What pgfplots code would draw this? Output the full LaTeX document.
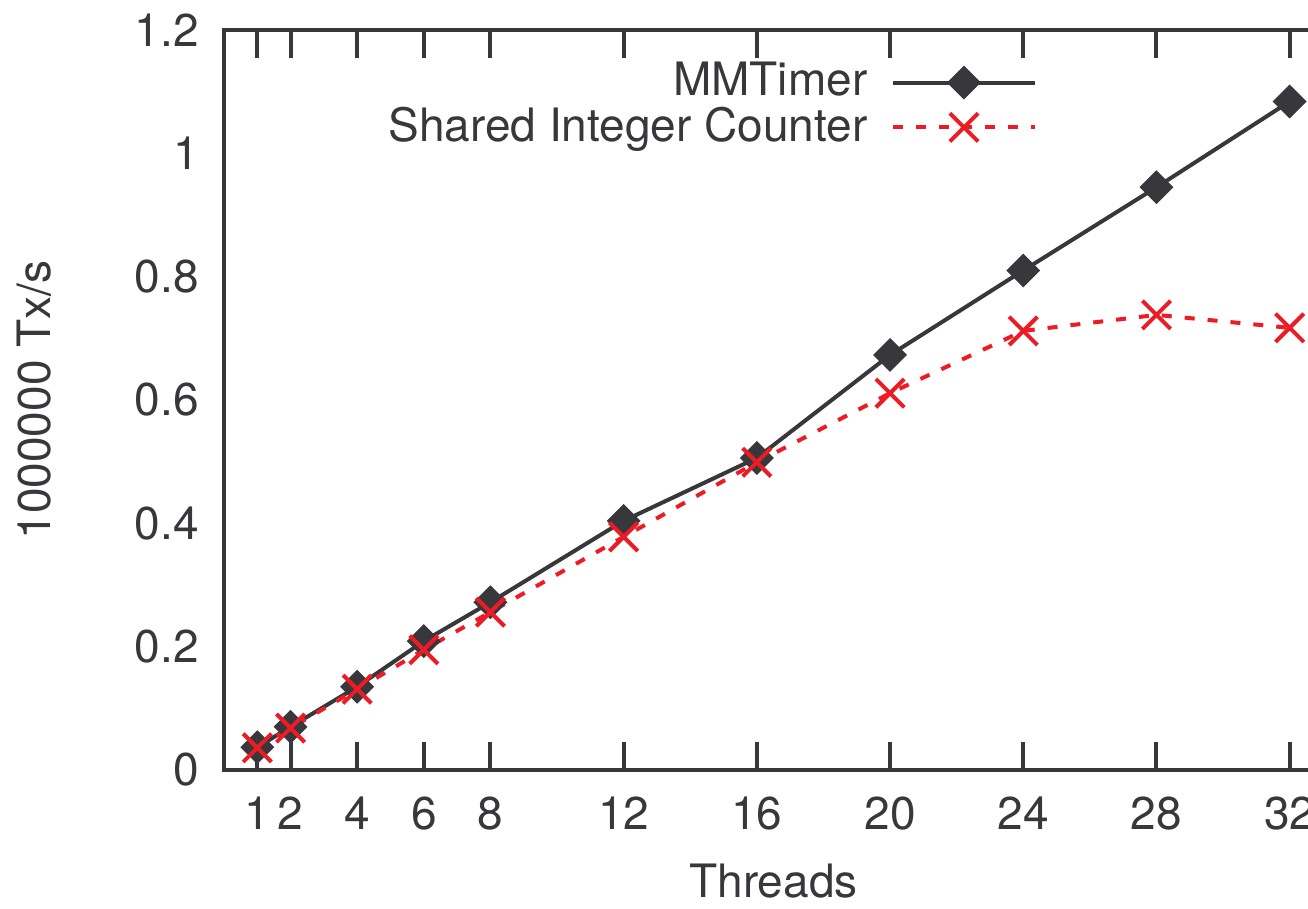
\documentclass[border=0pt]{standalone}
\usepackage{fontspec}
\setmainfont{TeX Gyre Heros}
\usepackage{pgfplots}
\pgfplotsset{compat=1.18}
\definecolor{gpdark}{RGB}{55,55,60}
\definecolor{gpred}{RGB}{237,28,36}

\begin{document}
\begin{tikzpicture}
\fontsize{11.5}{13.8}\selectfont
\begin{axis}[
  name=ax,
  scale only axis,
  width=274.75pt, height=185pt,
  xmin=0, xmax=33, ymin=0, ymax=1.2,
  xtick={1,2,4,6,8,12,16,20,24,28,32},
  ytick={0,0.2,0.4,0.6,0.8,1,1.2},
  tick align=inside,
  major tick length=7pt,
  xtick pos=both, ytick pos=left,
  x tick style={gpdark, line width=1pt},
  y tick style={draw=none},
  axis line style={gpdark, line width=1pt},
  tick label style={font=\fontsize{11.5}{13.8}\selectfont, text=gpdark},
  /pgf/number format/assume math mode=true,
  xticklabel style={yshift=-2.75pt},
  yticklabel style={xshift=-2.25pt},
  xlabel={Threads},
  ylabel={1000000 Tx/s},
  label style={font=\fontsize{11.5}{13.8}\selectfont, text=gpdark},
  xlabel style={at={(axis description cs:0.5,-0.15)}, anchor=center},
  ylabel style={at={(axis description cs:-0.1725,0.5)}, anchor=center},
  clip=false,
  legend plot pos=right,
  legend cell align=right,
  legend style={draw=none, fill=none, font=\fontsize{11.5}{13.8}\selectfont,
    text=gpdark, at={(rel axis cs:0.751,0.979)}, anchor=north east,
    row sep=-3pt, /tikz/every odd column/.append style={column sep=4pt}},
  legend image code/.code={
    \draw[mark repeat=2, mark phase=2, #1]
      plot coordinates {(0cm,0cm) (0.62cm,0cm) (1.24cm,0cm)};},
]
\addplot[gpdark, line width=1pt, mark=square*, mark size=2.5pt,
  mark options={rotate=45, solid, fill=gpdark}]
  coordinates {
  (1,0.037) (2,0.070) (4,0.135) (6,0.209) (8,0.272) (12,0.404)
  (16,0.506) (20,0.673) (24,0.810) (28,0.945) (32,1.084)
};
\addlegendentry{MMTimer}
\addplot[gpred, line width=1pt, dash pattern=on 2.5pt off 3.25pt, mark=x,
  mark size=5pt, mark options={solid, line width=1pt}]
  coordinates {
  (1,0.036) (2,0.068) (4,0.131) (6,0.195) (8,0.256) (12,0.378)
  (16,0.499) (20,0.611) (24,0.712) (28,0.738) (32,0.717)
};
\addlegendentry{Shared Integer Counter}
\end{axis}
\pgfresetboundingbox
\useasboundingbox ([xshift=-56pt, yshift=-34.75pt]ax.south west)
  rectangle ([xshift=271pt, yshift=7.5pt]ax.north west);
\end{tikzpicture}
\end{document}
